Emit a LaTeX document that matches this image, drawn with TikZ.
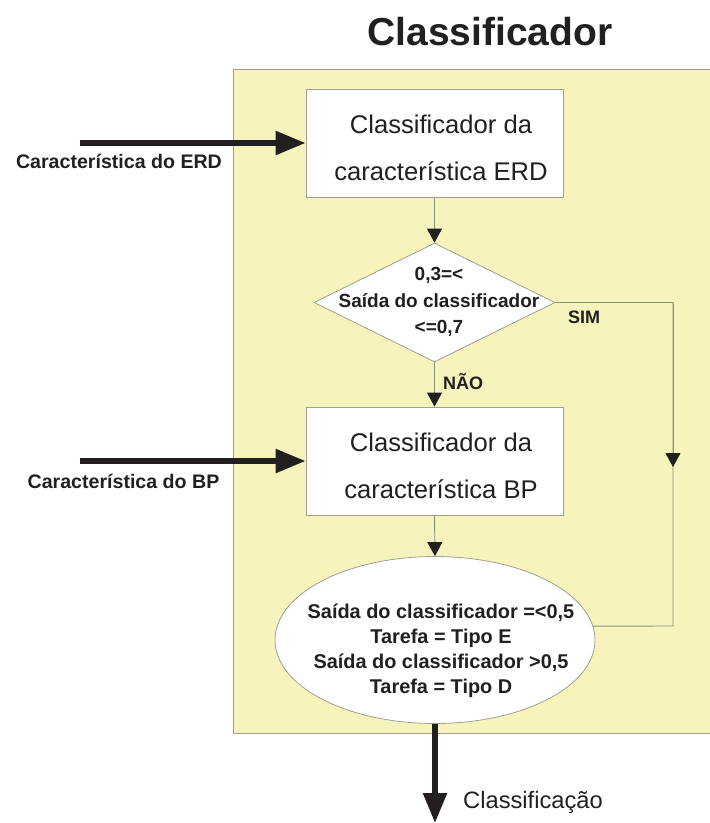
\documentclass[tikz,border=0pt]{standalone}
\usepackage{fontspec}
\setmainfont{Liberation Sans}
\usetikzlibrary{arrows.meta,shapes.geometric,calc}
\definecolor{panel}{RGB}{246,244,188}
\definecolor{edge}{RGB}{160,160,145}
\definecolor{wire}{RGB}{140,140,125}
\definecolor{ink}{RGB}{35,31,32}
\tikzset{
  every node/.style={text=ink},
  procbox/.style={draw=edge,fill=white,line width=0.8pt,minimum width=257pt,minimum height=108pt,inner sep=0pt},
  procText/.style={align=center,font=\fontsize{25.6}{47}\selectfont,inner sep=0pt},
  boldtxt/.style={font=\bfseries\fontsize{19}{26.5}\selectfont,align=center,inner sep=0pt},
  thinarrow/.style={draw=wire,line width=0.9pt,-{Triangle[length=14pt,width=15pt,color=ink]}},
  thinline/.style={draw=wire,line width=0.9pt},
  thickarrow/.style={draw=ink,line width=5.5pt,-{Triangle[length=30pt,width=23pt]}},
}
\begin{document}
\begin{tikzpicture}[x=1pt,y=-1pt]
\useasboundingbox (0,0) rectangle (710,823);

% title
\node[font=\bfseries\fontsize{39}{39}\selectfont,anchor=base,inner sep=0pt] (title) at (490,45) {Classificador};

% background panel
\draw[draw=edge,fill=panel,line width=0.8pt] (233,69) rectangle (715,733);

% process boxes
\node[procbox] (erd) at (434.5,143) {};
\node[procText] (erdt) at (441,148) {Classificador da\\característica ERD};
\node[procbox] (bp) at (434.5,461) {};
\node[procText] (bpt) at (441,466) {Classificador da\\característica BP};

% decision
\node[diamond,draw=edge,fill=white,line width=0.8pt,minimum width=241pt,minimum height=119pt,inner sep=0pt] (dec) at (434.5,302.5) {};
\node[boldtxt] (dect) at (439,302) {0,3=<\\Saída do classificador\\<=0,7};

% final decision ellipse
\node[ellipse,draw=edge,fill=white,line width=0.8pt,minimum width=320pt,minimum height=167pt,inner sep=0pt] (ell) at (435,640) {};
\node[font=\bfseries\fontsize{19.9}{25}\selectfont,align=center,inner sep=0pt] (ellt) at (441,651) {Saída do classificador =<0,5\\Tarefa = Tipo E\\Saída do classificador >0,5\\Tarefa = Tipo D};

% inputs
\coordinate (inA) at (80,143);
\coordinate (inB) at (80,461);
\draw[thickarrow] (inA) -- (erd.west);
\draw[thickarrow] (inB) -- (bp.west);
\node[font=\bfseries\fontsize{19.6}{20}\selectfont,anchor=base,inner sep=0pt] (lblA) at (119,168) {Característica do ERD};
\node[font=\bfseries\fontsize{19.6}{20}\selectfont,anchor=base,inner sep=0pt] (lblB) at (123.5,488) {Característica do BP};

% internal flow
\draw[thinarrow] (erd.south) -- (dec.north);
\draw[thinarrow] (dec.south) -- (bp.north);
\draw[thinarrow] (bp.south) -- (ell.north);
\node[font=\bfseries\fontsize{18}{18}\selectfont,anchor=base west,inner sep=0pt] (nao) at (443,389) {NÃO};

% yes branch
\coordinate (c1) at (673,302.5);
\coordinate (c2) at (673,467);
\coordinate (c3) at (673,626);
\draw[thinline] (dec.east) -- (c1) -- (c3) -- (ell.5);
\draw[thinarrow] (c1) -- (c2);
\node[font=\bfseries\fontsize{18}{18}\selectfont,anchor=base west,inner sep=0pt] (sim) at (568,323) {SIM};

% output
\coordinate (out) at (435,823);
\draw[thickarrow] (ell.south) -- (out);
\node[font=\fontsize{23.7}{24}\selectfont,anchor=base west,inner sep=0pt] (outl) at (463,808) {Classificação};
\end{tikzpicture}
\end{document}
